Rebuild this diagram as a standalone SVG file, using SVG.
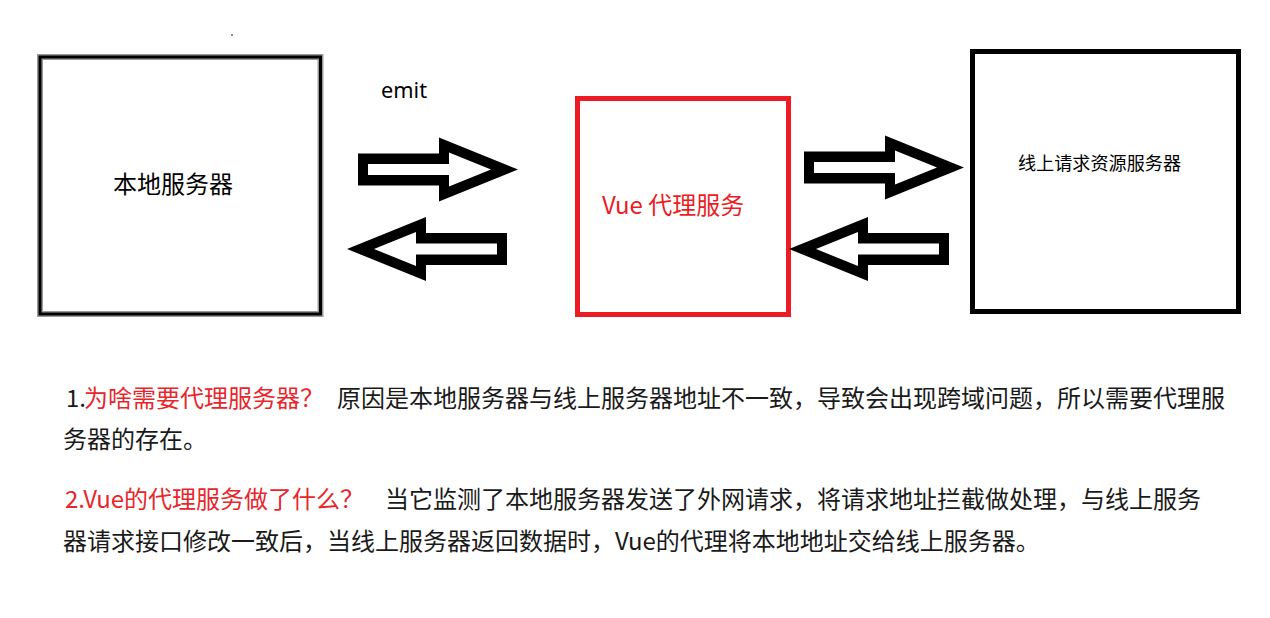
<svg xmlns="http://www.w3.org/2000/svg" width="1270" height="618" viewBox="0 0 1270 618">
<defs>
<style>
text{font-family:"Noto Sans CJK SC","Noto Sans",sans-serif}
.t{fill:#1a1a1a;font-size:24px}
.r{fill:#e8262b;font-size:24px}
.arrow{fill:#000;fill-rule:evenodd}
</style>
<path id="arr" d="M0,-16 L81,-16 L81,-32 L160,0 L81,32 L81,16 L0,16 Z M10,-5.5 L10,5.5 L91,5.5 L91,17 L133,0 L91,-17 L91,-5.5 Z"/>
</defs>
<rect width="1270" height="618" fill="#fff"/>
<rect x="231" y="34" width="2" height="2" fill="#888"/>

<g id="local">
<rect x="40" y="57" width="280.5" height="257" fill="#fff" stroke="#9a9a9a" stroke-width="6"/>
<rect x="40" y="57" width="280.5" height="257" fill="none" stroke="#000" stroke-width="3"/>
<text x="113" y="193" style="font-size:24px;fill:#000">本地服务器</text>
</g>

<g id="proxy">
<rect x="577.5" y="98.5" width="211" height="216" fill="#fff" stroke="#ed1c24" stroke-width="5"/>
<text x="602" y="214" style="font-size:24px;fill:#ed1c24">Vue 代理服务</text>
</g>

<g id="online">
<rect x="972.5" y="51.5" width="266" height="260" fill="#fff" stroke="#000" stroke-width="5"/>
<text x="1018" y="170" style="font-size:18px;fill:#000" textLength="163" lengthAdjust="spacingAndGlyphs">线上请求资源服务器</text>
</g>

<g id="connectors">
<use href="#arr" class="arrow" transform="translate(358,169.5)"/>
<use href="#arr" class="arrow" transform="translate(507,249) scale(-1,1)"/>
<use href="#arr" class="arrow" transform="translate(804,167.5)"/>
<use href="#arr" class="arrow" transform="translate(949,249) scale(-1,1)"/>
<text x="381" y="98" style="font-size:22px;fill:#000;font-family:'Noto Sans',sans-serif" textLength="46" lengthAdjust="spacingAndGlyphs">emit</text>
</g>

<g id="notes">
<text x="66" y="407" class="t">1.</text>
<text x="84" y="407" class="r">为啥需要代理服务器？</text>
<text x="337" y="407" class="t" textLength="888" lengthAdjust="spacing">原因是本地服务器与线上服务器地址不一致，导致会出现跨域问题，所以需要代理服</text>
<text x="63" y="448" class="t">务器的存在。</text>
<text x="65" y="508" class="r" textLength="299" lengthAdjust="spacingAndGlyphs">2.Vue的代理服务做了什么？</text>
<text x="385" y="508" class="t" textLength="816" lengthAdjust="spacing">当它监测了本地服务器发送了外网请求，将请求地址拦截做处理，与线上服务</text>
<text x="63" y="550" class="t">器请求接口修改一致后，当线上服务器返回数据时，Vue的代理将本地地址交给线上服务器。</text>
</g>
</svg>
